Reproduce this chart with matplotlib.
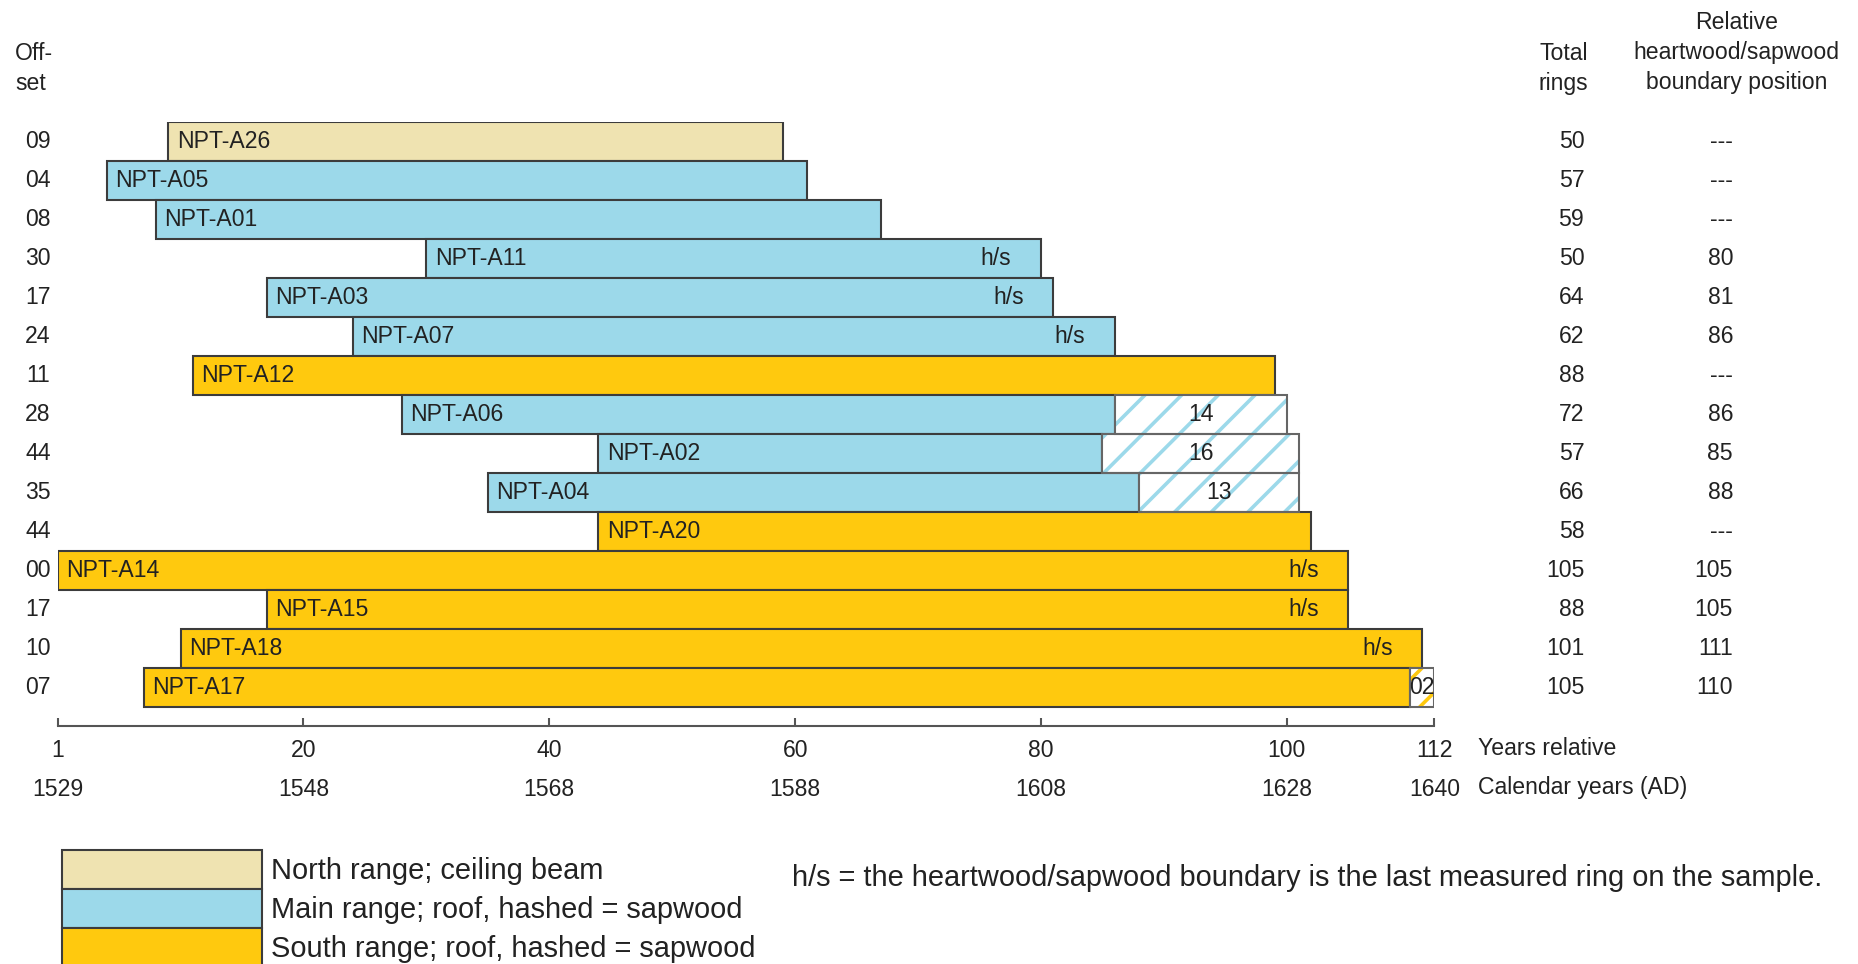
import matplotlib
matplotlib.use("Agg")
import matplotlib.pyplot as plt
from matplotlib.patches import Patch

# ---------------- data ----------------
samples = ["NPT-A26", "NPT-A05", "NPT-A01", "NPT-A11", "NPT-A03", "NPT-A07",
           "NPT-A12", "NPT-A06", "NPT-A02", "NPT-A04", "NPT-A20", "NPT-A14",
           "NPT-A15", "NPT-A18", "NPT-A17"]
offsets = [9, 4, 8, 30, 17, 24, 11, 28, 44, 35, 44, 0, 17, 10, 7]
total_rings = [50, 57, 59, 50, 64, 62, 88, 72, 57, 66, 58, 105, 88, 101, 105]
hs_boundary = [None, None, None, 80, 81, 86, None, 86, 85, 88, None, 105, 105, 111, 110]
sapwood_rings = [0, 0, 0, 0, 0, 0, 0, 14, 16, 13, 0, 0, 0, 0, 2]
hs_last_ring = [False, False, False, True, True, True, False, False, False, False,
                False, True, True, True, False]
groups = ["north", "main", "main", "main", "main", "main", "south", "main", "main",
          "main", "south", "south", "south", "south", "south"]

group_names = ["north", "main", "south"]
group_labels = ["North range; ceiling beam",
                "Main range; roof, hashed = sapwood",
                "South range; roof, hashed = sapwood"]

rel_ticks = [0, 20, 40, 60, 80, 100, 112]
rel_tick_labels = ["1", "20", "40", "60", "80", "100", "112"]
cal_tick_labels = ["1529", "1548", "1568", "1588", "1608", "1628", "1640"]

# ---------------- style ----------------
colors = {"north": "#EFE3B1", "main": "#9CD9EA", "south": "#FFC90E"}
edge = "#3c3c3c"
txt = "#222222"
W, H, DPI = 1858, 964, 220
pt = lambda px: px * 72.0 / DPI     # pixel size -> points
FS = pt(23.05)
FSL = pt(29.0)
lw = pt(2.08)

plt.rcParams["font.family"] = ["Liberation Sans", "DejaVu Sans"]
plt.rcParams["hatch.linewidth"] = pt(3.6)

fig = plt.figure(figsize=((W + 0.4) / DPI, (H + 0.4) / DPI), dpi=DPI)
fx = lambda px: px / W
fy = lambda py: 1 - py / H

left_px, right_px, top_px, bottom_px = 57.6, 1434.0, 122.0, 726.5
ax = fig.add_axes([fx(left_px), fy(bottom_px), fx(right_px) - fx(left_px), fy(top_px) - fy(bottom_px)])
ax.set_xlim(0, 112)
ax.set_ylim(15, -0.5)

for i, name in enumerate(samples):
    start = offsets[i]
    end = offsets[i] + total_rings[i]
    sap = sapwood_rings[i]
    c = colors[groups[i]]
    heart_end = end - sap
    ax.barh(i, heart_end - start, left=start, height=1.0, color=c, edgecolor=edge,
            linewidth=lw, zorder=2)
    if sap > 0:
        ax.barh(i, sap, left=heart_end, height=1.0, facecolor="white", edgecolor=c,
                hatch="//", linewidth=0, zorder=2)
        ax.barh(i, sap, left=heart_end, height=1.0, fill=False, edgecolor="#666666",
                linewidth=lw, zorder=3)
        ax.text(heart_end + sap / 2, i, f"{sap:02d}", ha="center", va="center",
                fontsize=FS, color=txt, zorder=4)
    ax.text(start + 0.7, i, name, ha="left", va="center", fontsize=FS, color=txt, zorder=4)
    if hs_last_ring[i]:
        ax.text(end - 2.4, i, "h/s", ha="right", va="center", fontsize=FS, color=txt, zorder=4)
    # left offset column
    ax.text(-1.6, i, f"{offsets[i]:02d}", ha="center", va="center", fontsize=FS,
            color=txt, clip_on=False)
    # right columns
    ax.text(124.2, i, str(total_rings[i]), ha="right", va="center", fontsize=FS,
            color=txt, clip_on=False)
    b = hs_boundary[i]
    ax.text(136.3, i, "---" if b is None else str(b), ha="right", va="center",
            fontsize=FS, color=txt, clip_on=False)

# axis
for s in ["top", "left", "right"]:
    ax.spines[s].set_visible(False)
ax.spines["bottom"].set_color("#555555")
ax.spines["bottom"].set_linewidth(lw)
ax.set_yticks([])
ax.set_xticks(rel_ticks, labels=rel_tick_labels)
ax.tick_params(axis="x", direction="in", length=pt(8), width=lw, color="#555555",
               labelsize=FS, labelcolor=txt, pad=pt(11.9))
sec = ax.secondary_xaxis("bottom")
sec.set_xticks(rel_ticks, labels=cal_tick_labels)
sec.tick_params(axis="x", length=0, labelsize=FS, labelcolor=txt, pad=pt(50.8))
sec.spines["bottom"].set_visible(False)

fig.text(fx(1478), fy(748), "Years relative", fontsize=FS, color=txt, va="center")
fig.text(fx(1478), fy(787), "Calendar years (AD)", fontsize=FS, color=txt, va="center")

# headers
fig.text(fx(15), fy(53), "Off-", fontsize=FS, color=txt, va="center", ha="left")
fig.text(fx(15), fy(83), "set", fontsize=FS, color=txt, va="center", ha="left")
fig.text(fx(1563), fy(53), "Total", fontsize=FS, color=txt, va="center", ha="center")
fig.text(fx(1563), fy(83), "rings", fontsize=FS, color=txt, va="center", ha="center")
fig.text(fx(1736), fy(22), "Relative", fontsize=FS, color=txt, va="center", ha="center")
fig.text(fx(1736), fy(52), "heartwood/sapwood", fontsize=FS, color=txt, va="center", ha="center")
fig.text(fx(1736), fy(82), "boundary position", fontsize=FS, color=txt, va="center", ha="center")

# legend
handles = [Patch(facecolor=colors[g], edgecolor=edge, linewidth=lw) for g in group_names]
fig.legend(handles, group_labels, loc="upper left", bbox_to_anchor=(fx(62), fy(850)),
           frameon=False, fontsize=FSL, handlelength=6.9, handleheight=1.69,
           labelspacing=0, handletextpad=0.3, borderpad=0, borderaxespad=0,
           labelcolor=txt)

fig.text(fx(792), fy(878), "h/s = the heartwood/sapwood boundary is the last measured ring on the sample.",
         fontsize=FSL, color=txt, va="center", ha="left")

fig.savefig("out.png", dpi=DPI)
